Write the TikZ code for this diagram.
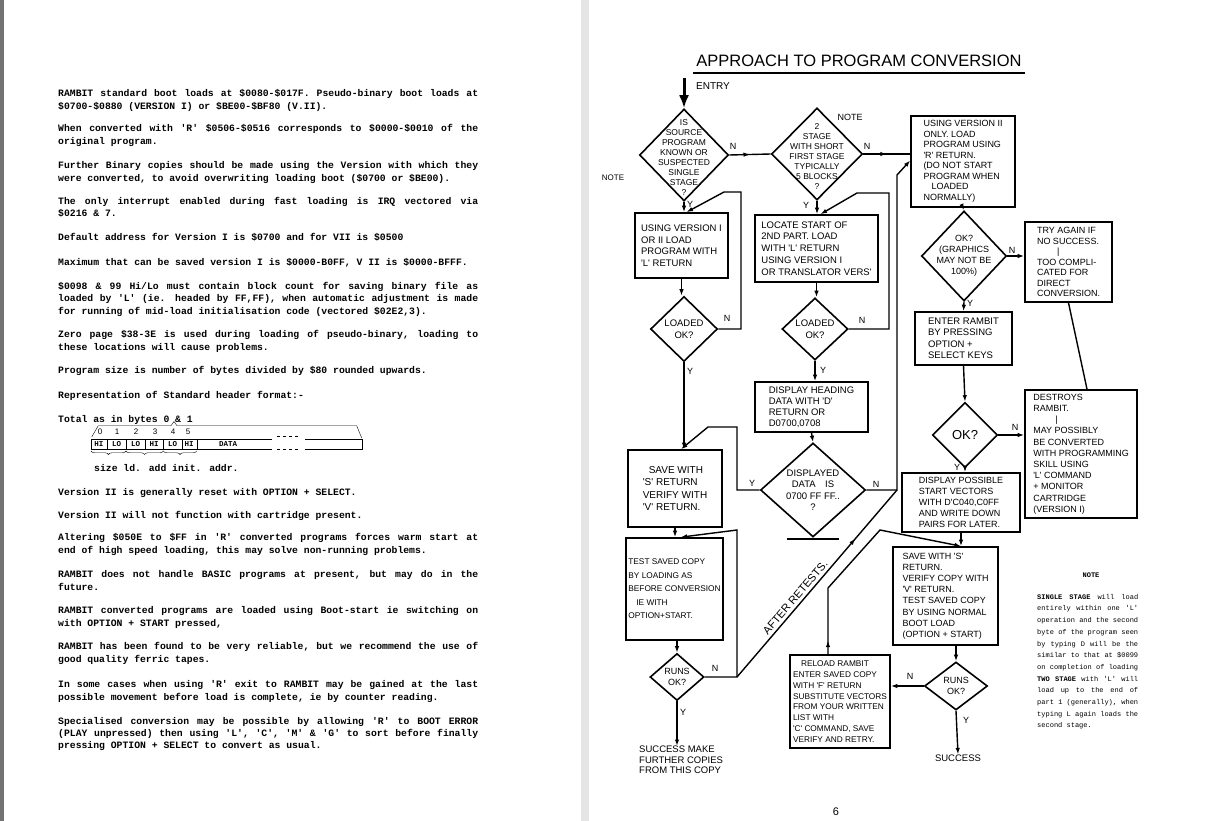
\documentclass[tikz,border=0pt]{standalone}
\usepackage{fontspec}
\newfontfamily\hand{Liberation Sans}
\newfontfamily\typew{Liberation Mono}
\usetikzlibrary{arrows.meta, calc, shapes.geometric, decorations.markings, decorations.pathreplacing}

\newcommand\hsz[2]{\hand\fontsize{#1}{#2}\selectfont}
% justified typewriter lines
\newcommand\jl[1]{\makebox[420pt][s]{\spaceskip=5.85pt plus 1fil\relax #1}}
\newcommand\jn[1]{\makebox[101pt][s]{\spaceskip=4.2pt plus 1fil\relax #1}}

\tikzset{
  box/.style={draw, line width=1.6pt, align=left, inner sep=2pt, font=\hsz{9}{11}},
  dmd/.style={draw, diamond, line width=1.6pt, inner sep=0pt},
  dtxt/.style={align=center, inner sep=0pt, font=\hsz{8.5}{10}},
  lbl/.style={inner sep=0pt, font=\hsz{9}{10}},
  flow/.style={line width=1.4pt, -{Latex[length=6.5pt,width=4.5pt]}},
  link/.style={line width=1.4pt},
  midarr/.style={postaction={decorate}, decoration={markings, mark=at position #1 with {\arrow{Latex[length=6.5pt,width=4.5pt]}}}},
  midarr/.default=0.5,
  para/.style={anchor=north west, inner sep=0pt, align=left, font=\typew\bfseries\fontsize{9.75}{12.3}\selectfont},
  cell/.style={inner sep=0pt, font=\typew\bfseries\fontsize{7.5}{8}\selectfont},
}

\begin{document}
\begin{tikzpicture}[x=1pt, y=-1pt]
\useasboundingbox (0,0) rectangle (1208,821);
\fill[white] (0,0) rectangle (1208,821);
\fill[black!55] (0,0) rectangle (4,821);
\fill[black!10] (581,0) rectangle (589,821);

% left page: typed notes
\node[para] (p1) at (58,89.5) {\jl{RAMBIT standard boot loads at \$0080-\$017F. Pseudo-binary boot loads at}\\
\$0700-\$0880 (VERSION I) or \$BE00-\$BF80 (V.II).};
\node[para] (p2) at (58,124.5) {\jl{When converted with 'R' \$0506-\$0516 corresponds to \$0000-\$0010 of the}\\
original program.};
\node[para] (p3) at (58,161.5) {\jl{Further Binary copies should be made using the Version with which they}\\
were converted, to avoid overwriting loading boot (\$0700 or \$BE00).};
\node[para] (p4) at (58,197) {\jl{The only interrupt enabled during fast loading is IRQ vectored via}\\
\$0216 \& 7.};
\node[para] (p5) at (58,233.5) {Default address for Version I is \$0700 and for VII is \$0500};
\node[para] (p6) at (58,258.5) {Maximum that can be saved version I is \$0000-B0FF, V II is \$0000-BFFF.};
\node[para] (p7) at (58,282) {\jl{\$0098 \& 99 Hi/Lo must contain block count for saving binary file as}\\
\jl{loaded by 'L' (ie. headed by FF,FF), when automatic adjustment is made}\\
for running of mid-load initialisation code (vectored \$02E2,3).};
\node[para] (p8) at (58,330.5) {\jl{Zero page \$38-3E is used during loading of pseudo-binary, loading to}\\
these locations will cause problems.};
\node[para] (p9) at (58,366.5) {Program size is number of bytes divided by \$80 rounded upwards.};
\node[para] (p10) at (58,391) {Representation of Standard header format:-};
\node[para] (p11) at (58,415.5) {Total as in bytes 0 \& 1};

% header format strip
\foreach \d/\x in {0/100,1/117,2/136,3/155,4/173,5/188}
  \node[cell, font=\hsz{8}{8}] (dg\d) at (\x,431.5) {\d};
\foreach \t/\x [count=\i] in {HI/99,LO/116.7,LO/135.5,HI/154.2,LO/172.5,HI/189.2}
  \node[cell] (hc\i) at (\x,444) {\t};
\node[cell] (hdata) at (228,444) {DATA};
\draw[thin] (91.7,437) -- (98.3,425.7) -- (171,425.7) -- (174,421.5) -- (177,425.7) -- (356.7,425.7) -- (361.7,438);
\draw[thin] (272,439) -- (90.7,439) -- (90.7,449) -- (272,449);
\draw[thin] (305,439) -- (361.7,439) -- (361.7,449) -- (305,449);
\draw[thin, dashed] (277,436) -- (300,436);
\draw[thin, dashed] (277,449.5) -- (300,449.5);
\foreach \x in {107.3,126,145,163.3,181.7,196.7}
  \draw[thin] (\x,439) -- (\x,449);
\foreach \a/\b in {91/126,126/163.3,163.3/196.7}
  \draw[thin, decorate, decoration={brace, mirror, amplitude=3.5pt}] (\a,451) -- (\b,451);
\node[para, anchor=west] (hlab) at (94,468) {size ld. add init. addr.};

\node[para] (p12) at (58,488) {Version II is generally reset with OPTION + SELECT.};
\node[para] (p13) at (58,511) {Version II will not function with cartridge present.};
\node[para] (p14) at (58,533.5) {\jl{Altering \$050E to \$FF in 'R' converted programs forces warm start at}\\
end of high speed loading, this may solve non-running problems.};
\node[para] (p15) at (58,570.5) {\jl{RAMBIT does not handle BASIC programs at present, but may do in the}\\
future.};
\node[para] (p16) at (58,606.5) {\jl{RAMBIT converted programs are loaded using Boot-start ie switching on}\\
with OPTION + START pressed,};
\node[para] (p17) at (58,642.5) {\jl{RAMBIT has been found to be very reliable, but we recommend the use of}\\
good quality ferric tapes.};
\node[para] (p18) at (58,680.5) {\jl{In some cases when using 'R' exit to RAMBIT may be gained at the last}\\
possible movement before load is complete, ie by counter reading.};
\node[para] (p19) at (58,717) {\jl{Specialised conversion may be possible by allowing 'R' to BOOT ERROR}\\
\jl{(PLAY unpressed) then using 'L', 'C', 'M' \& 'G' to sort before finally}\\
pressing OPTION + SELECT to convert as usual.};

% right page: flowchart
\node[font=\hsz{16.5}{20}, anchor=base, inner sep=0pt] (title) at (859,67) {APPROACH TO PROGRAM CONVERSION};
\draw[line width=1.4pt] ($(title.base west)+(-3,6)$) -- ($(title.base east)+(3,6)$);
\coordinate (entry) at (684,78);
\node[lbl, anchor=west, font=\hsz{10}{11}] (entrylbl) at (696,86) {ENTRY};

% decisions
\node[dmd, minimum width=89pt, minimum height=92pt, label={[dtxt, name=d1t, yshift=-3pt]center:{IS\\SOURCE\\PROGRAM\\KNOWN OR\\SUSPECTED\\SINGLE\\STAGE\\?}}] (d1) at (684,155) {};
\node[dmd, minimum width=91pt, minimum height=92pt, label={[dtxt, name=d2t, yshift=-3pt]center:{2\\STAGE\\WITH SHORT\\FIRST STAGE\\TYPICALLY\\5 BLOCKS\\?}}] (d2) at (817,154) {};
\node[dmd, minimum width=67pt, minimum height=65pt, label={[dtxt, name=d3t, font=\hsz{9.5}{11.5}]center:{LOADED\\OK?}}] (d3) at (684,329) {};
\node[dmd, minimum width=66pt, minimum height=62pt, label={[dtxt, name=d4t, font=\hsz{9.5}{11.5}]center:{LOADED\\OK?}}] (d4) at (815,329) {};
\node[dmd, minimum width=105pt, minimum height=94pt, label={[dtxt, name=d5t, font=\hsz{9.5}{11.5}]center:{DISPLAYED\\DATA\quad IS\\0700 FF FF..\\?}}] (d5) at (813,490) {};
\node[dmd, minimum width=85pt, minimum height=90pt, label={[dtxt, name=d6t, font=\hsz{9}{11}]center:{OK?\\(GRAPHICS\\MAY NOT BE\\100\%)}}] (d6) at (964,256) {};
\node[dmd, minimum width=65pt, minimum height=65pt, label={[dtxt, name=d7t, font=\hsz{13}{15}]center:{OK?}}] (d7) at (965,435) {};
\node[dmd, minimum width=63pt, minimum height=48pt, label={[dtxt, name=d8t, font=\hsz{9}{10.5}]center:{RUNS\\OK?}}] (d8) at (956,686) {};
\node[dmd, minimum width=54pt, minimum height=47pt, label={[dtxt, name=d9t, font=\hsz{9}{10.5}]center:{RUNS\\OK?}}] (d9) at (677,677) {};
\draw[link] ($(d5.south)+(-26,1)$) -- ($(d5.south)+(26,1)$);

% process boxes
\node[box, minimum width=93pt, minimum height=65pt, font=\hsz{9.5}{11.5}] (b1) at (681.5,245.5) {USING VERSION I\\OR II LOAD\\PROGRAM WITH\\'L' RETURN};
\node[box, minimum width=123pt, minimum height=67pt, font=\hsz{9.5}{11.8}] (b2) at (816.5,248.5) {LOCATE START OF\\2ND PART. LOAD\\WITH 'L' RETURN\\USING VERSION I\\OR TRANSLATOR VERS'};
\node[box, minimum width=104pt, minimum height=91pt, font=\hsz{9}{10.5}] (b3) at (963,161.5) {USING VERSION II\\ONLY. LOAD\\PROGRAM USING\\'R' RETURN.\\(DO NOT START\\PROGRAM WHEN\\\hspace*{8pt}LOADED\\NORMALLY)};
\node[box, minimum width=94pt, minimum height=77pt, font=\hsz{10}{12.5}] (b4) at (675,488.5) {\hspace*{6pt}SAVE WITH\\'S' RETURN\\VERIFY WITH\\'V' RETURN.};
\node[box, minimum width=113pt, minimum height=50pt, font=\hsz{9.5}{11}] (b5) at (811.5,407) {DISPLAY HEADING\\DATA WITH 'D'\\RETURN OR\\D0700,0708};
\node[box, minimum width=87pt, minimum height=80pt, font=\hsz{9}{10.5}] (b6) at (1068.5,262) {TRY AGAIN IF\\NO SUCCESS.\\\hspace*{20pt}|\\TOO COMPLI-\\CATED FOR\\DIRECT\\CONVERSION.};
\node[box, minimum width=112pt, minimum height=128pt, font=\hsz{9}{11.2}] (b7) at (1081,454) {DESTROYS\\RAMBIT.\\\hspace*{22pt}|\\MAY POSSIBLY\\BE CONVERTED\\WITH PROGRAMMING\\SKILL USING\\'L' COMMAND\\+ MONITOR\\CARTRIDGE\\(VERSION I)};
\node[box, minimum width=97pt, minimum height=53pt, font=\hsz{9.5}{11.5}] (b8) at (963.5,338.5) {ENTER RAMBIT\\BY PRESSING\\OPTION +\\SELECT KEYS};
\node[box, minimum width=118pt, minimum height=59pt] (b9) at (961,502.5) {DISPLAY POSSIBLE\\START VECTORS\\WITH D'C040,C0FF\\AND WRITE DOWN\\PAIRS FOR LATER.};
\node[box, minimum width=105pt, minimum height=98pt, font=\hsz{9}{11.2}] (b10) at (945.5,596) {SAVE WITH 'S'\\RETURN.\\VERIFY COPY WITH\\'V' RETURN.\\TEST SAVED COPY\\BY USING NORMAL\\BOOT LOAD\\(OPTION + START)};
\node[box, minimum width=100pt, minimum height=93pt, font=\hsz{8.3}{10.8}] (b11) at (840,701.5) {\hspace*{8pt}RELOAD RAMBIT\\ENTER SAVED COPY\\WITH 'F' RETURN\\SUBSTITUTE VECTORS\\FROM YOUR WRITTEN\\LIST WITH\\'C' COMMAND, SAVE\\VERIFY AND RETRY.};
\node[box, minimum width=97pt, minimum height=102pt, font=\hsz{8.3}{13.5}] (b12) at (674.5,589) {TEST SAVED COPY\\BY LOADING AS\\BEFORE CONVERSION\\\hspace*{8pt}IE WITH\\OPTION+START.};

% free texts
\node[lbl, font=\hsz{8}{9}] (note1) at (613,178) {NOTE};
\node[lbl, font=\hsz{9}{10}] (note2) at (850,117) {NOTE};
\node[lbl, anchor=north west, align=left, font=\hsz{9.5}{10.5}] (succ1) at (639,746) {SUCCESS MAKE\\FURTHER COPIES\\FROM THIS COPY};
\node[lbl, font=\hsz{9.5}{10.5}] (succ2) at (958,758) {SUCCESS};
\node[lbl, font=\hsz{11}{12}] (pageno) at (836,812) {6};

% branch letters
\node[lbl] (n1) at (733,146) {N};
\node[lbl] (n2) at (867,146) {N};
\node[lbl] (y1) at (690,204) {Y};
\node[lbl] (y2) at (806,205) {Y};
\node[lbl] (n3) at (727,318) {N};
\node[lbl] (y3) at (690,371) {Y};
\node[lbl] (n4) at (862,320) {N};
\node[lbl] (y4) at (823,370) {Y};
\node[lbl] (y5) at (752,483) {Y};
\node[lbl] (n5) at (876,484) {N};
\node[lbl] (n9) at (715,668) {N};
\node[lbl] (y9) at (683,712) {Y};
\node[lbl] (n6) at (1012,250) {N};
\node[lbl] (y6) at (970,303) {Y};
\node[lbl] (n7) at (1015,427) {N};
\node[lbl] (y7) at (957,467) {Y};
\node[lbl] (n8) at (910,676) {N};
\node[lbl] (y8) at (966,720) {Y};

% connectors
\draw[line width=3pt, -{Latex[length=13pt,width=10pt]}] (entry) -- (d1.north);
\draw[link, midarr] (d1.east) -- (d2.west);
\draw[link, midarr] (d2.east) -- (d2.east -| b3.west);
\draw[flow] (d1.south) -- (d1.south |- b1.north);
\draw[flow] (b1.south) -- (b1.south |- d3.north);
\draw[flow] (d3.east) -- (741,329) -- (741,192) -- (724,192) -- ($(b1.north)+(5,0)$);
\draw[flow] (d3.south) -- (d3.south |- b4.north);
\draw[flow] (d2.south) -- (d2.south |- b2.north);
\draw[flow] (b2.south) -- (b2.south |- d4.north);
\draw[flow] (d4.east) -- (889,329) -- (889,193) -- (857,193) -- ($(b2.north)+(4,0)$);
\draw[flow] (d4.south) -- (d4.south |- b5.north);
\draw[flow] (b5.south) -- (d5.north);
\draw[flow] (d5.west) -- (737,490) -- (737,427) -- (708,427) -- ($(b4.north)+(6,0)$);
\draw[flow] (d5.east) -- (897,490) -- (897,175) -- ($(b3.west)+(0,-1)$);
\draw[flow] (b4.south) -- (b4.south |- b12.north);
\draw[flow] (d9.north |- b12.south) -- (d9.north);
\coordinate (retest) at (737,677);
\coordinate (junc) at (897,490);
\draw[flow] (d9.east) -- (retest) -- (737,530) -- ($(b12.north)+(6,0)$);
\draw[link, midarr=0.74] (retest) -- node[sloped, above=3pt, pos=0.4, inner sep=0pt, font=\hsz{11}{12}] (rtlbl) {AFTER RETESTS.} (junc);
\draw[flow] (d9.south) -- (d9.south |- succ1.north);
\draw[flow] (b3.south) -- (d6.north);
\draw[flow] (d6.east) -- (d6.east -| b6.west);
\draw[flow] (d6.south) -- (b8.north);
\draw[link] (b6.south) -- ($(b7.north)+(6,0)$);
\draw[flow] (b8.south) -- (d7.north);
\draw[flow] (d7.east) -- (d7.east -| b7.west);
\draw[flow] (d7.south) -- (d7.south |- b9.north);
\coordinate (b10in) at (b9.south |- b10.north);
\draw[flow] (b9.south) -- (b10in);
\draw[flow, midarr=0.06] ($(b11.north)+(-12,0)$) -- (828,588) -- (880,530) -- (b10in);
\draw[flow] (d8.north |- b10.south) -- (d8.north);
\draw[flow] (d8.west) -- (d8.west -| b11.east);
\draw[flow] (d8.south) -- (succ2.north);

% note on the right
\node[inner sep=0pt, font=\typew\bfseries\fontsize{7}{8}\selectfont] (notehd) at (1091,575) {NOTE};
\node[anchor=north west, inner sep=0pt, align=left, font=\typew\fontsize{7}{11.7}\selectfont] (notetxt) at (1037,594) {\jn{\textbf{SINGLE STAGE} will load}\\
\jn{entirely within one 'L'}\\
\jn{operation and the second}\\
\jn{byte of the program seen}\\
\jn{by typing D will be the}\\
\jn{similar to that at \$0099}\\
\jn{on completion of loading}\\
\jn{\textbf{TWO STAGE} with 'L' will}\\
\jn{load up to the end of}\\
\jn{part 1 (generally), when}\\
\jn{typing L again loads the}\\
second stage.};
\end{tikzpicture}
\end{document}
